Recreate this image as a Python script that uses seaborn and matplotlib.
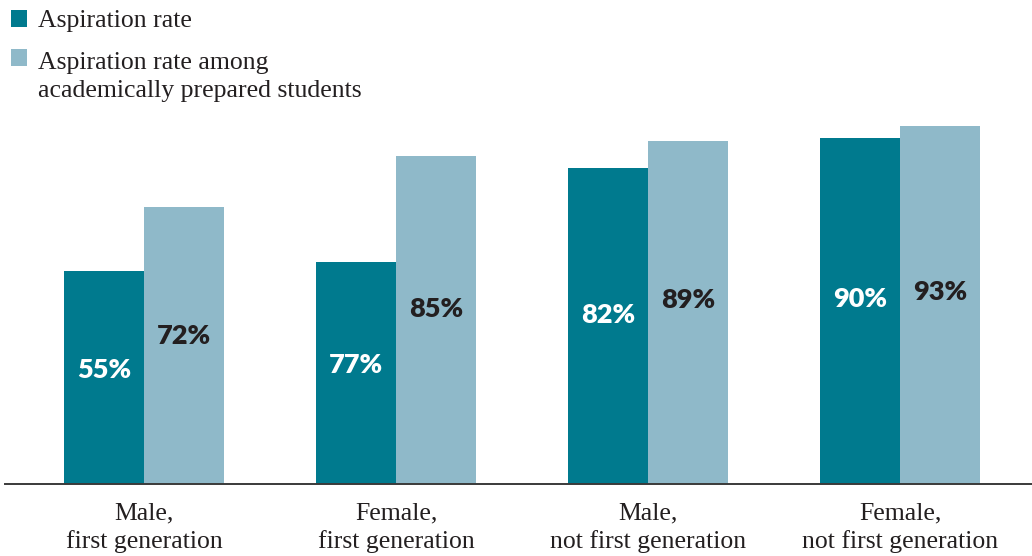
import matplotlib
matplotlib.use("Agg")
import matplotlib.pyplot as plt
from matplotlib.legend_handler import HandlerPatch
from matplotlib.patches import Rectangle
import seaborn as sns
import pandas as pd

categories = ["Male,\nfirst generation", "Female,\nfirst generation",
              "Male,\nnot first generation", "Female,\nnot first generation"]
series_names = ["Aspiration rate", "Aspiration rate among\nacademically prepared students"]
# bar heights as drawn in the picture
aspiration = [55.3, 57.7, 82.1, 89.9]
prepared = [71.9, 85.2, 89.1, 93.0]
# printed labels
aspiration_labels = ["55%", "77%", "82%", "90%"]
prepared_labels = ["72%", "85%", "89%", "93%"]

colors = ["#007a8e", "#8fb9c9"]

df = pd.DataFrame({
    "group": categories * 2,
    "series": [series_names[0]] * 4 + [series_names[1]] * 4,
    "value": aspiration + prepared,
})

sns.set_theme(style="white")
plt.rcParams["font.family"] = ["Liberation Serif", "DejaVu Serif"]

fig = plt.figure(figsize=(10.32, 5.56), dpi=100)
ax = fig.add_axes([5 / 1032, 72 / 556, 1027 / 1032, 385 / 556])

sns.barplot(data=df, x="group", y="value", hue="series", order=categories,
            hue_order=series_names, palette=colors, width=0.635,
            saturation=1, ax=ax, legend=False, linewidth=0, edgecolor="none")

ax.set_xlim(-0.552, 3.524)
ax.set_ylim(0, 100)
ax.set_xlabel("")
ax.set_ylabel("")
ax.set_yticks([])
for s in ["top", "right", "left"]:
    ax.spines[s].set_visible(False)
ax.spines["bottom"].set_color("#3a3a3a")
ax.spines["bottom"].set_linewidth(1.4)
ax.tick_params(axis="x", length=0, pad=13.5, labelsize=18.5, labelcolor="#231f20")
for t in ax.get_xticklabels():
    t.set_linespacing(1.3)

label_sets = [(aspiration_labels, "white"), (prepared_labels, "#231f20")]
for container, (labels, col) in zip(ax.containers, label_sets):
    for patch, lab in zip(container.patches, labels):
        x = patch.get_x() + patch.get_width() / 2
        h = patch.get_height()
        ax.text(x, h * 0.535, lab, ha="center", va="center", color=col,
                fontsize=19.5, fontweight="heavy", family=["Lato", "DejaVu Sans"])


class TopHandler(HandlerPatch):
    def __init__(self, shift=0, **kw):
        super().__init__(**kw)
        self.shift = shift

    def create_artists(self, legend, orig_handle, xdescent, ydescent, width,
                       height, fontsize, trans):
        p = Rectangle((-xdescent, -ydescent + self.shift), width, height,
                      facecolor=orig_handle.get_facecolor(), edgecolor="none",
                      transform=trans)
        return [p]


handles = [Rectangle((0, 0), 1, 1, facecolor=c, edgecolor="none") for c in colors]
leg = fig.legend(handles, series_names, loc="upper left",
                 bbox_to_anchor=(11 / 1032, 1 - 10 / 556), frameon=False,
                 fontsize=18.5, handlelength=0.62, handleheight=0.62,
                 handletextpad=0.42, borderpad=0, borderaxespad=0,
                 labelspacing=0.75, labelcolor="#231f20",
                 handler_map={handles[0]: TopHandler(0),
                              handles[1]: TopHandler(13.5)})
for t in leg.get_texts():
    t.set_linespacing(1.38)

fig.savefig("out.png", dpi=100)
